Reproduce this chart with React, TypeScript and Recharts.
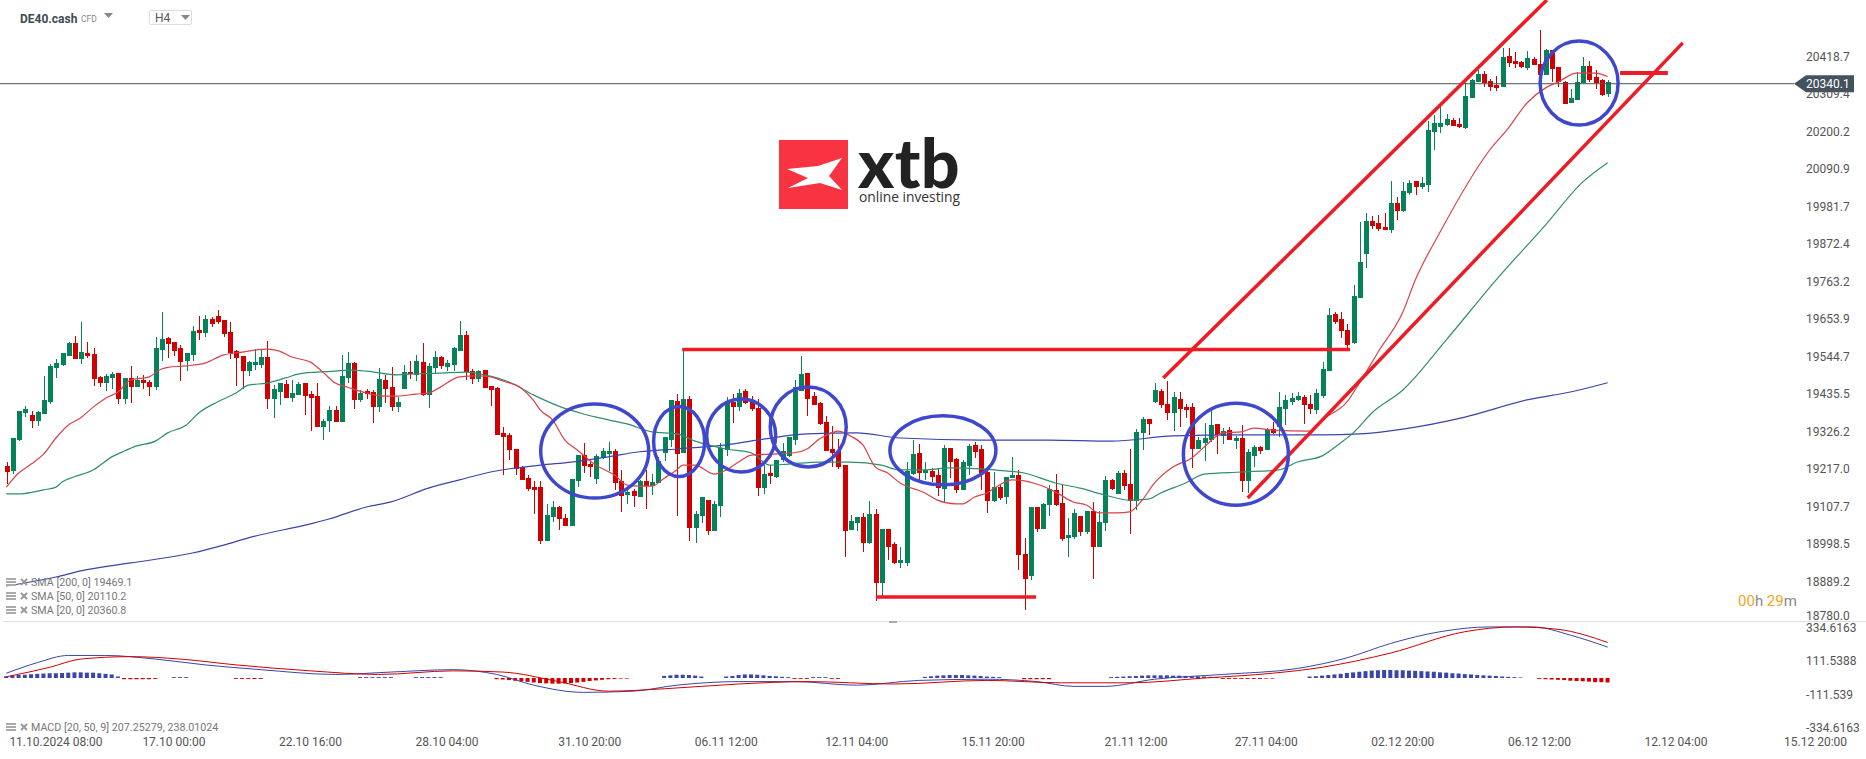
import React from "react";
import {
  ComposedChart,
  Bar,
  Line,
  Cell,
  XAxis,
  YAxis,
  ReferenceLine,
  ReferenceDot,
} from "recharts";

const FONT = "Roboto, sans-serif";
const UP = "#05825a";
const DOWN = "#d10000";
const SMA20_COLOR = "#d8434a";
const SMA50_COLOR = "#2f8f6d";
const BLUE = "#3a45a8";
const MARK_RED = "#ed1c24";
const MARK_BLUE = "#3f48cc";

const opens = [
  19226, 19212, 19302, 19381, 19375, 19358, 19378, 19413, 19512, 19521, 19547, 19585, 19538, 19556, 19553, 19486, 19468, 19483, 19497, 19422,
  19483, 19457, 19477, 19471, 19457, 19564, 19599, 19588, 19570, 19532, 19550, 19623, 19614, 19655, 19663, 19652, 19617, 19561, 19547, 19503,
  19521, 19521, 19544, 19422, 19442, 19465, 19425, 19433, 19468, 19436, 19430, 19340, 19358, 19390, 19355, 19483, 19526, 19419, 19445, 19442,
  19398, 19477, 19457, 19398, 19451, 19500, 19492, 19529, 19433, 19512, 19544, 19515, 19521, 19561, 19608, 19503, 19480, 19506, 19460, 19454,
  19323, 19317, 19276, 19224, 19192, 19165, 19165, 19008, 19078, 19107, 19075, 19052, 19183, 19258, 19232, 19189, 19250, 19261, 19270, 19183,
  19142, 19154, 19136, 19183, 19168, 19177, 19265, 19302, 19416, 19265, 19422, 19046, 19081, 19127, 19037, 19110, 19273, 19413, 19398, 19445,
  19419, 19396, 19162, 19206, 19195, 19244, 19256, 19302, 19445, 19497, 19430, 19410, 19355, 19276, 19270, 19229, 19040, 19060, 19078, 19002,
  19087, 18886, 19043, 18999, 18944, 18944, 19203, 19264, 19206, 19212, 19200, 19160, 19279, 19247, 19157, 19227, 19288, 19276, 19209, 19125,
  19165, 19136, 19192, 19200, 18970, 18906, 19107, 19043, 19113, 19157, 19119, 19017, 19020, 19081, 19034, 19096, 18990, 19060, 19186, 19145,
  19206, 19174, 19125, 19323, 19363, 19413, 19445, 19407, 19381, 19422, 19398, 19398, 19276, 19294, 19302, 19349, 19314, 19331, 19299, 19308,
  19183, 19256, 19282, 19273, 19334, 19340, 19393, 19413, 19419, 19427, 19407, 19390, 19430, 19503, 19669, 19655, 19623, 19585, 19716, 19844,
  19940, 19934, 19923, 19914, 19993, 19969, 20022, 20057, 20039, 20045, 20199, 20214, 20220, 20234, 20223, 20211, 20299, 20345, 20368, 20348,
  20336, 20331, 20421, 20406, 20403, 20386, 20412, 20398, 20366, 20438, 20389, 20345, 20284, 20293, 20342, 20392, 20360, 20351, 20310,
];

const highs = [
  19238, 19308, 19387, 19402, 19387, 19387, 19489, 19524, 19538, 19555, 19588, 19605, 19646, 19588, 19570, 19489, 19494, 19500, 19497, 19483,
  19518, 19489, 19492, 19477, 19602, 19675, 19602, 19588, 19579, 19555, 19634, 19663, 19666, 19660, 19681, 19652, 19646, 19564, 19547, 19532,
  19567, 19564, 19591, 19462, 19468, 19477, 19477, 19471, 19468, 19445, 19468, 19363, 19401, 19401, 19550, 19558, 19529, 19448, 19451, 19448,
  19512, 19492, 19515, 19427, 19521, 19532, 19550, 19585, 19526, 19561, 19547, 19535, 19573, 19649, 19620, 19509, 19506, 19506, 19460, 19457,
  19340, 19323, 19276, 19227, 19201, 19183, 19183, 19116, 19125, 19110, 19087, 19189, 19258, 19294, 19241, 19261, 19279, 19296, 19276, 19215,
  19165, 19159, 19186, 19215, 19203, 19253, 19308, 19419, 19436, 19564, 19430, 19096, 19136, 19127, 19124, 19294, 19427, 19436, 19451, 19451,
  19430, 19421, 19229, 19229, 19244, 19294, 19311, 19477, 19547, 19497, 19442, 19413, 19372, 19343, 19305, 19229, 19084, 19078, 19090, 19124,
  19101, 19043, 19043, 19005, 18990, 19238, 19302, 19291, 19238, 19221, 19221, 19288, 19279, 19250, 19244, 19291, 19296, 19288, 19215, 19209,
  19172, 19195, 19253, 19215, 19017, 19107, 19107, 19119, 19172, 19203, 19172, 19075, 19101, 19081, 19096, 19122, 19096, 19198, 19189, 19212,
  19215, 19276, 19334, 19369, 19363, 19468, 19451, 19474, 19442, 19442, 19407, 19410, 19311, 19352, 19390, 19349, 19337, 19340, 19314, 19346,
  19276, 19288, 19285, 19337, 19355, 19442, 19433, 19439, 19442, 19433, 19433, 19451, 19529, 19687, 19675, 19675, 19640, 19754, 19937, 19963,
  19955, 19958, 19963, 20057, 20010, 20054, 20060, 20057, 20068, 20232, 20249, 20275, 20252, 20240, 20240, 20342, 20354, 20380, 20377, 20354,
  20363, 20444, 20444, 20433, 20406, 20435, 20418, 20497, 20441, 20438, 20389, 20348, 20325, 20374, 20418, 20406, 20380, 20354, 20351,
];

const lows = [
  19174, 19203, 19299, 19369, 19337, 19343, 19378, 19407, 19483, 19518, 19547, 19538, 19524, 19541, 19460, 19457, 19445, 19451, 19407, 19407,
  19410, 19457, 19451, 19430, 19448, 19532, 19541, 19547, 19474, 19503, 19532, 19593, 19602, 19631, 19640, 19602, 19538, 19460, 19451, 19489,
  19506, 19512, 19393, 19366, 19404, 19425, 19413, 19433, 19375, 19328, 19340, 19302, 19326, 19355, 19355, 19468, 19393, 19413, 19421, 19352,
  19384, 19410, 19387, 19384, 19451, 19480, 19474, 19430, 19396, 19497, 19509, 19503, 19503, 19561, 19477, 19465, 19471, 19454, 19401, 19317,
  19200, 19244, 19200, 19186, 19154, 19087, 19000, 19008, 19063, 19040, 19052, 19052, 19165, 19206, 19195, 19174, 19247, 19212, 19157, 19092,
  19116, 19107, 19136, 19101, 19142, 19177, 19241, 19282, 19081, 19265, 19008, 19002, 19060, 19026, 19037, 19078, 19256, 19352, 19387, 19407,
  19387, 19139, 19145, 19174, 19192, 19238, 19253, 19288, 19445, 19372, 19404, 19346, 19270, 19224, 19218, 18961, 19040, 19037, 18976, 19000,
  18833, 18845, 18953, 18941, 18929, 18935, 19200, 19186, 19186, 19180, 19139, 19119, 19192, 19148, 19157, 19200, 19250, 19157, 19090, 19121,
  19127, 19116, 19192, 18924, 18807, 18894, 19034, 19043, 19081, 19110, 19008, 18961, 19014, 19023, 19028, 18897, 18990, 19037, 19157, 19145,
  19157, 19028, 19098, 19273, 19317, 19410, 19396, 19361, 19328, 19340, 19366, 19221, 19276, 19241, 19296, 19261, 19291, 19302, 19276, 19151,
  19148, 19224, 19261, 19273, 19320, 19311, 19346, 19404, 19416, 19349, 19378, 19378, 19425, 19503, 19640, 19599, 19567, 19582, 19716, 19803,
  19917, 19911, 19914, 19905, 19943, 19966, 20016, 20016, 20033, 20025, 20147, 20197, 20217, 20217, 20211, 20208, 20299, 20345, 20331, 20319,
  20319, 20331, 20389, 20386, 20386, 20380, 20395, 20366, 20366, 20345, 20331, 20281, 20284, 20293, 20342, 20345, 20325, 20304, 20301,
];

const closes = [
  19209, 19308, 19387, 19393, 19358, 19384, 19419, 19518, 19526, 19555, 19585, 19538, 19559, 19547, 19480, 19468, 19489, 19494, 19422, 19483,
  19457, 19477, 19468, 19457, 19570, 19596, 19582, 19561, 19529, 19555, 19620, 19614, 19655, 19640, 19646, 19611, 19556, 19541, 19503, 19529,
  19529, 19544, 19422, 19451, 19468, 19425, 19439, 19465, 19430, 19425, 19340, 19358, 19390, 19355, 19489, 19526, 19419, 19439, 19436, 19398,
  19480, 19451, 19398, 19413, 19500, 19494, 19532, 19433, 19518, 19544, 19518, 19526, 19570, 19608, 19500, 19480, 19503, 19454, 19448, 19317,
  19311, 19273, 19218, 19186, 19160, 19157, 19008, 19084, 19107, 19072, 19052, 19189, 19258, 19227, 19224, 19256, 19270, 19270, 19177, 19139,
  19151, 19139, 19183, 19168, 19180, 19241, 19311, 19419, 19261, 19422, 19046, 19087, 19136, 19037, 19116, 19279, 19416, 19398, 19439, 19410,
  19393, 19162, 19203, 19197, 19244, 19270, 19311, 19457, 19494, 19422, 19404, 19349, 19270, 19265, 19224, 19037, 19066, 19078, 19002, 19087,
  18886, 19043, 18990, 18944, 18953, 19212, 19261, 19206, 19215, 19195, 19162, 19279, 19238, 19157, 19238, 19285, 19267, 19206, 19125, 19165,
  19133, 19195, 19200, 18967, 18897, 19107, 19043, 19116, 19160, 19113, 19014, 19025, 19090, 19034, 19096, 18990, 19063, 19186, 19160, 19206,
  19168, 19125, 19326, 19363, 19349, 19448, 19404, 19381, 19427, 19393, 19390, 19276, 19302, 19308, 19346, 19317, 19328, 19302, 19308, 19183,
  19267, 19282, 19270, 19331, 19323, 19398, 19419, 19425, 19430, 19404, 19393, 19439, 19509, 19666, 19646, 19620, 19579, 19722, 19821, 19940,
  19926, 19917, 19914, 19993, 19969, 20028, 20051, 20039, 20051, 20205, 20226, 20226, 20237, 20217, 20214, 20304, 20351, 20368, 20342, 20331,
  20328, 20418, 20400, 20398, 20389, 20415, 20395, 20366, 20438, 20383, 20345, 20281, 20299, 20345, 20392, 20351, 20342, 20307, 20345,
];

const sma20Index = [
  0, 2, 4, 6, 8, 10, 12, 14, 16, 18, 20, 23, 25, 26, 29, 32, 35, 38, 40, 42, 44, 46, 49, 51, 53, 55, 58, 61, 63, 66, 68, 70, 73, 76, 78, 80, 83, 85, 86, 88,
  90, 92, 95, 98, 100, 102, 104, 106, 108, 109, 111, 114, 116, 118, 120, 123, 127, 129, 131, 133, 134, 136, 138, 140, 142, 144, 148, 150, 153, 154, 156, 158,
  160, 162, 164, 166, 169, 172, 174, 176, 179, 181, 183, 185, 188, 191, 193, 196, 199, 201, 204, 210, 212, 216, 218, 221, 225, 227, 231, 239, 242, 245, 248,
  250, 253, 256, 258,
];
const sma20 = [
  19165, 19206, 19232, 19261, 19308, 19346, 19367, 19398, 19424, 19442, 19477, 19486, 19509, 19514, 19518, 19526, 19550, 19558, 19564, 19567, 19561, 19544,
  19529, 19500, 19468, 19456, 19439, 19430, 19430, 19436, 19439, 19457, 19486, 19489, 19486, 19474, 19453, 19416, 19390, 19361, 19302, 19273, 19229, 19200,
  19171, 19168, 19168, 19191, 19215, 19229, 19229, 19203, 19215, 19238, 19258, 19261, 19265, 19276, 19305, 19323, 19328, 19314, 19288, 19224, 19206, 19177,
  19148, 19127, 19116, 19116, 19136, 19148, 19171, 19186, 19183, 19174, 19151, 19121, 19113, 19090, 19090, 19093, 19127, 19177, 19224, 19250, 19282, 19323,
  19326, 19337, 19331, 19328, 19361, 19413, 19468, 19558, 19675, 19768, 19908, 20147, 20211, 20284, 20328, 20345, 20371, 20371, 20361,
];

const sma50Index = [
  0, 2, 6, 8, 9, 11, 14, 17, 19, 21, 24, 26, 29, 31, 34, 37, 39, 42, 45, 47, 50, 53, 55, 58, 63, 65, 70, 74, 77, 81, 85, 89, 93, 97, 100, 104, 108, 111, 116, 120,
  123, 126, 131, 136, 141, 144, 148, 152, 157, 161, 164, 169, 173, 177, 181, 184, 186, 190, 193, 199, 205, 208, 212, 215, 217, 220, 225, 232, 240, 248, 254, 258,
];
const sma50 = [
  19145, 19145, 19157, 19165, 19180, 19195, 19215, 19253, 19270, 19285, 19299, 19323, 19346, 19381, 19413, 19439, 19462, 19468, 19483, 19494, 19500, 19503,
  19506, 19503, 19492, 19494, 19497, 19500, 19492, 19471, 19433, 19401, 19378, 19361, 19349, 19326, 19320, 19299, 19276, 19265, 19229, 19232, 19238, 19238,
  19229, 19215, 19215, 19221, 19218, 19212, 19206, 19177, 19162, 19142, 19127, 19130, 19148, 19177, 19203, 19209, 19215, 19238, 19256, 19294, 19323, 19381,
  19448, 19594, 19768, 19929, 20054, 20110,
];

const sma200Index = [0, 8, 12, 20, 30, 35, 39, 49, 52, 58, 62, 68, 73, 78, 86, 91, 97, 102, 108, 116, 121, 129, 137, 144, 157, 168, 178, 188, 199, 212, 218, 225, 235, 245, 252, 258];
const sma200 = [
  18877, 18903, 18921, 18944, 18973, 18996, 19017, 19058, 19072, 19107, 19122, 19162, 19186, 19209, 19229, 19238, 19253, 19268, 19276, 19288, 19302, 19320,
  19323, 19308, 19302, 19302, 19299, 19314, 19317, 19317, 19320, 19334, 19369, 19419, 19442, 19469,
];

const macdIndex = [0, 5, 10, 16, 24, 32, 41, 53, 62, 72, 79, 85, 93, 101, 108, 118, 127, 137, 147, 158, 166, 172, 177, 185, 196, 208, 216, 223, 231, 239, 246, 252, 258];
const macdLine = [32, 103, 151, 151, 127, 88, 56, 24, 40, 56, 24, -48, -96, -88, -48, -24, -24, -48, -16, -8, -24, -56, -56, -8, 24, 64, 135, 231, 310, 342, 342, 287, 207];

const signalIndex = [0, 7, 12, 20, 28, 37, 49, 60, 72, 80, 89, 97, 106, 118, 129, 143, 158, 170, 181, 193, 204, 212, 223, 235, 243, 250, 258];
const signalLine = [8, 72, 127, 143, 127, 88, 48, 24, 48, 40, -24, -88, -72, -40, -24, -40, -16, -32, -32, 0, 32, 72, 167, 310, 342, 326, 238];

const histogram = [
  12, 16, 20, 22, 26, 28, 30, 32, 32, 34, 36, 38, 38, 36, 36, 32, 28, 24, 10, -8, -8, -8, -8, -8, -6, 0, 0, 6, 6, 6, 0, 0, 0, 0, 0, 0, 0, -6, -6, -6, -6, -6,
  0, 0, 0, 0, 0, 0, 0, 0, 0, 0, 0, 0, 0, 0, 0, 6, 6, 6, 6, 6, 6, 0, 0, 0, 6, 6, 6, 6, 6, 0, 0, 0, 0, 0, 0, 0, 0,
  -8, -10, -14, -18, -22, -26, -30, -34, -36, -38, -38, -36, -34, -30, -26, -20, -16, -12, -8, -6, -4, -4, 0, 0, 0, 0, 0,
  14, 18, 22, 22, 20, 16, 10, 0, 0, 0, 10, 14, 20, 24, 24, 22, 18, 14, 12, 8, 6, -6, -6, -6, 6, 6, 6, -6, -6, 0,
  0, 0, 0, 0, 0, 0, 0, 0, 0, 0, 0, 0, 8, 12, 16, 18, 20, 20, 20, 18, 16, 14, 10, 8, 6, 0, 0, 0, -8, -8, -8, -8, -8,
  0, 0, 0, 0, 0, 0, 0, 0, 0, 6, 8, 10, 12, 14, 16, 18, 18, 18, 18, 16, 16, 14, 12, 12, 10, 8, 6, -6, -6, -6, -6, -6, -6, -6, -4, -4, 0, 0, 0, 0, 0,
  10, 12, 16, 20, 24, 28, 34, 38, 42, 46, 50, 52, 54, 54, 52, 52, 50, 48, 46, 44, 42, 38, 36, 32, 30, 26, 24, 20, 18, 16, 14, 10, 8, 6, 4, 0, 0,
  -6, -8, -10, -12, -14, -18, -20, -22, -24, -28, -28, -30,
];

const priceTicks = [20418.7, 20309.4, 20200.2, 20090.9, 19981.7, 19872.4, 19763.2, 19653.9, 19544.7, 19435.5, 19326.2, 19217.0, 19107.7, 18998.5, 18889.2, 18780.0];
const macdTicks = [334.6163, 111.5388, -111.539, -334.6163];
const dateTickIndex = [8, 27, 49, 71, 94, 116, 137, 159, 182, 203, 225, 247, 269, 291.5];
const dateTickLabels = [
  "11.10.2024 08:00", "17.10 00:00", "22.10 16:00", "28.10 04:00", "31.10 20:00", "06.11 12:00", "12.11 04:00",
  "15.11 20:00", "21.11 12:00", "27.11 04:00", "02.12 20:00", "06.12 12:00", "12.12 04:00", "15.12 20:00",
];
const lastPrice = 20340.1;

// hand drawn marks on the chart, in candle index / price
const segments = [
  { from: [108.9, 19566], to: [216.5, 19566], width: 3.5 },
  { from: [140.1, 18845], to: [165.9, 18845], width: 3.5 },
  { from: [186.4, 19483], to: [248.2, 20584], width: 3.5 },
  { from: [200, 19133], to: [270.1, 20459], width: 3.5 },
  { from: [260, 20371], to: [267.7, 20371], width: 4 },
];
const circles = [
  { i: 94.8, price: 19270, rx: 54, ry: 47 },
  { i: 108.4, price: 19298, rx: 25.5, ry: 35 },
  { i: 118.4, price: 19315, rx: 34.5, ry: 36.5 },
  { i: 129.2, price: 19340, rx: 38, ry: 40 },
  { i: 150.9, price: 19272, rx: 53, ry: 34.5 },
  { i: 198.1, price: 19261, rx: 52.5, ry: 51 },
  { i: 253.4, price: 20342, rx: 39, ry: 42 },
];

const seriesRows = (index: number[], values: number[]) =>
  index.map((i, n) => ({ i, value: values[n] }));

const priceRows = opens.map((open, i) => ({
  i,
  open,
  high: highs[i],
  low: lows[i],
  close: closes[i],
}));

const macdRows = opens.map((_, i) => ({ i, hist: histogram[i] ?? 0 }));

const X_DOMAIN = [-1.015, 288.02];

const Candle = (props: any) => {
  const { x, y, width, height, payload } = props;
  const center = Math.round(x + width / 2);
  const perUnit = height / (payload.high - payload.low);
  const top = y + (payload.high - Math.max(payload.open, payload.close)) * perUnit;
  const bottom = y + (payload.high - Math.min(payload.open, payload.close)) * perUnit;
  const color = payload.close >= payload.open ? UP : DOWN;
  return (
    <g shapeRendering="crispEdges">
      <rect x={center} y={y} width={1} height={height} fill={color} />
      <rect x={center - 2} y={top} width={5} height={Math.max(bottom - top, 1)} fill={color} />
    </g>
  );
};

const PriceTick = (props: any) => {
  const { x, y, payload } = props;
  const low = payload.value === 18780;
  return (
    <text x={x} y={y + (low ? 1 : 4)} fill="#555" fontSize={12} fontFamily={FONT}>
      {payload.value.toFixed(1)}
    </text>
  );
};

const MacdTick = (props: any) => {
  const { x, y, payload } = props;
  return (
    <text x={x} y={y + 4} fill="#555" fontSize={12} fontFamily={FONT}>
      {String(payload.value)}
    </text>
  );
};

const DateTick = (props: any) => {
  const { x, y, payload, index } = props;
  return (
    <text x={x} y={y + 5} fill="#555" fontSize={12} fontFamily={FONT} textAnchor="middle">
      {dateTickLabels[index] ?? payload.value}
    </text>
  );
};

const PriceTag = (props: any) => {
  const { viewBox } = props;
  const x = viewBox.x + viewBox.width;
  const y = viewBox.y;
  return (
    <g>
      <path d={`M${x} ${y} L${x + 12} ${y - 8.5} H${x + 60} V${y + 8.5} H${x + 12} Z`} fill="#44525d" />
      <text x={x + 12} y={y + 4} fill="#fff" fontSize={12} fontFamily={FONT}>
        {lastPrice.toFixed(1)}
      </text>
    </g>
  );
};

const LegendIcons = ({ top }: { top: number }) => (
  <svg style={{ position: "absolute", left: 6, top, width: 24, height: 12 }}>
    <rect x={0} y={1} width={10} height={2} fill="#aaa" />
    <rect x={0} y={4} width={10} height={2} fill="#aaa" />
    <rect x={0} y={7} width={10} height={2} fill="#aaa" />
    <path d="M15 2 L21 8 M21 2 L15 8" stroke="#999" strokeWidth={2} />
  </svg>
);

const legendRows = [
  { top: 577, text: "SMA [200, 0] 19469.1" },
  { top: 591, text: "SMA [50, 0] 20110.2" },
  { top: 605, text: "SMA [20, 0] 20360.8" },
  { top: 722, text: "MACD [20, 50, 9] 207.25279, 238.01024" },
];

const App = () => {
  return (
    <div
      style={{
        position: "absolute",
        left: 0,
        top: 0,
        width: 1866,
        height: 759,
        background: "#fff",
        overflow: "hidden",
        fontFamily: FONT,
      }}
    >
      <div style={{ position: "absolute", left: 0, top: 0 }}>
        <ComposedChart width={1866} height={622} data={priceRows} margin={{ top: 0, right: 0, bottom: 0, left: 0 }}>
          <XAxis dataKey="i" type="number" domain={X_DOMAIN} allowDataOverflow hide />
          <YAxis
            orientation="right"
            width={72}
            type="number"
            domain={[18772, 20584]}
            allowDataOverflow
            ticks={priceTicks}
            interval={0}
            tick={<PriceTick />}
            tickLine={false}
            axisLine={false}
            tickSize={0}
            tickMargin={12}
          />
          <ReferenceLine y={lastPrice} stroke="#44525d" strokeWidth={1} label={{ content: PriceTag }} />
          <Bar
            dataKey={(d: any) => [d.low, d.high]}
            barSize={5}
            shape={<Candle />}
            isAnimationActive={false}
          />
          <Line data={seriesRows(sma200Index, sma200)} dataKey="value" type="monotone" stroke={BLUE} strokeWidth={1.2} dot={false} activeDot={false} isAnimationActive={false} />
          <Line data={seriesRows(sma50Index, sma50)} dataKey="value" type="monotone" stroke={SMA50_COLOR} strokeWidth={1.2} dot={false} activeDot={false} isAnimationActive={false} />
          <Line data={seriesRows(sma20Index, sma20)} dataKey="value" type="monotone" stroke={SMA20_COLOR} strokeWidth={1.2} dot={false} activeDot={false} isAnimationActive={false} />
          {segments.map((s, n) => (
            <ReferenceLine
              key={n}
              segment={[
                { x: s.from[0], y: s.from[1] },
                { x: s.to[0], y: s.to[1] },
              ]}
              stroke={MARK_RED}
              strokeWidth={s.width}
            />
          ))}
          {circles.map((c, n) => (
            <ReferenceDot
              key={n}
              x={c.i}
              y={c.price}
              r={c.rx}
              shape={(p: any) => (
                <ellipse cx={p.cx} cy={p.cy} rx={c.rx} ry={c.ry} fill="none" stroke={MARK_BLUE} strokeWidth={3.5} />
              )}
            />
          ))}
        </ComposedChart>
      </div>

      <div style={{ position: "absolute", left: 0, top: 622 }}>
        <ComposedChart width={1866} height={137} data={macdRows} margin={{ top: 0, right: 0, bottom: 0, left: 0 }}>
          <XAxis
            dataKey="i"
            type="number"
            domain={X_DOMAIN}
            allowDataOverflow
            ticks={dateTickIndex}
            interval={0}
            height={26}
            tick={<DateTick />}
            tickLine={false}
            axisLine={false}
          />
          <YAxis
            orientation="right"
            width={72}
            type="number"
            domain={[-368, 375]}
            allowDataOverflow
            ticks={macdTicks}
            interval={0}
            tick={<MacdTick />}
            tickLine={false}
            axisLine={false}
            tickSize={0}
            tickMargin={12}
          />
          <Bar dataKey="hist" barSize={4} isAnimationActive={false}>
            {macdRows.map((row) => (
              <Cell key={row.i} fill={row.hist >= 0 ? BLUE : DOWN} />
            ))}
          </Bar>
          <Line data={seriesRows(macdIndex, macdLine)} dataKey="value" type="monotone" stroke={BLUE} strokeWidth={1} dot={false} activeDot={false} isAnimationActive={false} />
          <Line data={seriesRows(signalIndex, signalLine)} dataKey="value" type="monotone" stroke={DOWN} strokeWidth={1} dot={false} activeDot={false} isAnimationActive={false} />
        </ComposedChart>
      </div>

      {/* separator between panels */}
      <div style={{ position: "absolute", left: 3, right: 0, top: 621, height: 1, background: "#ddd" }} />
      <div style={{ position: "absolute", left: 889, top: 621, width: 8, height: 2, background: "#aaa" }} />

      {/* header */}
      <div style={{ position: "absolute", left: 20, top: 12, fontSize: 12, fontWeight: 700, color: "#3b4a55" }}>DE40.cash</div>
      <div style={{ position: "absolute", left: 81, top: 14, fontSize: 8.5, color: "#888" }}>CFD</div>
      <svg style={{ position: "absolute", left: 104, top: 13, width: 10, height: 6 }}>
        <path d="M0 0 H9 L4.5 5 Z" fill="#888" />
      </svg>
      <div
        style={{
          position: "absolute",
          left: 149,
          top: 10,
          width: 43,
          height: 15,
          boxSizing: "border-box",
          border: "1px solid #ddd",
          borderRadius: 2,
          fontSize: 12,
          lineHeight: "15px",
          paddingLeft: 5,
          color: "#555",
        }}
      >
        H4
      </div>
      <svg style={{ position: "absolute", left: 181, top: 15, width: 10, height: 6 }}>
        <path d="M0 0 H9 L4.5 5 Z" fill="#888" />
      </svg>

      {/* logo */}
      <svg style={{ position: "absolute", left: 779, top: 140, width: 69, height: 69 }}>
        <rect width={69} height={69} fill="#f93341" />
        <path d="M8 29 L39 26 L63 18 L50 36 L63 50 L41 43 L9 48 L29 38 Z" fill="#fff" />
      </svg>
      <div style={{ position: "absolute", left: 858, top: 141, fontFamily: "Lato, sans-serif", fontSize: 68, fontWeight: 900, color: "#222", letterSpacing: 0.5, lineHeight: "42px", height: 42 }}>
        xtb
      </div>
      <div style={{ position: "absolute", left: 859, top: 187, fontFamily: "Open Sans, sans-serif", fontSize: 13.8, lineHeight: "19px", color: "#333", whiteSpace: "nowrap" }}>online investing</div>

      {/* indicator legends */}
      {legendRows.map((row) => (
        <React.Fragment key={row.text}>
          <LegendIcons top={row.top} />
          <div style={{ position: "absolute", left: 31, top: row.top - 1, fontSize: 10.7, color: "#777", whiteSpace: "nowrap" }}>{row.text}</div>
        </React.Fragment>
      ))}

      {/* candle countdown */}
      <div style={{ position: "absolute", left: 1738, top: 592, fontSize: 15, color: "#f5a623", whiteSpace: "nowrap" }}>
        00<span style={{ color: "#888" }}>h</span> 29<span style={{ color: "#888" }}>m</span>
      </div>
    </div>
  );
};

export default App;
